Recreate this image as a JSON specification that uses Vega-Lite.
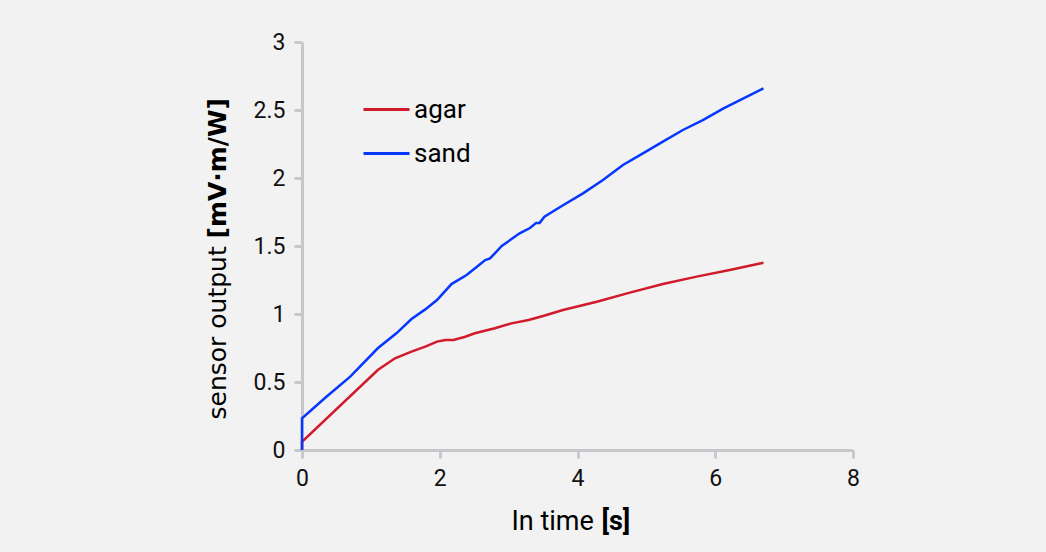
{
  "$schema": "https://vega.github.io/schema/vega-lite/v6.json",
  "width": 551,
  "height": 408,
  "autosize": {"type": "none"},
  "padding": {"left": 302, "top": 42, "right": 193, "bottom": 102},
  "background": "#f2f2f2",
  "config": {
    "view": {"stroke": null},
    "font": "Roboto",
    "axis": {
      "grid": false,
      "domainColor": "#c8c8cc",
      "domainWidth": 3,
      "tickColor": "#c8c8cc",
      "tickWidth": 3,
      "tickSize": 8,
      "labelFont": "Roboto",
      "labelFontSize": 23,
      "labelColor": "#111111",
      "labelPadding": 9,
      "labelFlush": false,
      "labelOverlap": false,
      "titleColor": "#000000"
    }
  },
  "data": {
    "values": [
      {"series": "agar", "k": 0, "t": 0, "v": 0},
      {"series": "agar", "k": 1, "t": 0, "v": 0.06},
      {"series": "agar", "k": 2, "t": 1.10, "v": 0.588},
      {"series": "agar", "k": 3, "t": 1.35, "v": 0.674},
      {"series": "agar", "k": 4, "t": 1.59, "v": 0.723},
      {"series": "agar", "k": 5, "t": 1.79, "v": 0.76},
      {"series": "agar", "k": 6, "t": 1.96, "v": 0.797},
      {"series": "agar", "k": 7, "t": 2.08, "v": 0.809},
      {"series": "agar", "k": 8, "t": 2.20, "v": 0.809},
      {"series": "agar", "k": 9, "t": 2.37, "v": 0.833},
      {"series": "agar", "k": 10, "t": 2.51, "v": 0.858},
      {"series": "agar", "k": 11, "t": 2.80, "v": 0.895},
      {"series": "agar", "k": 12, "t": 3.04, "v": 0.931},
      {"series": "agar", "k": 13, "t": 3.29, "v": 0.956},
      {"series": "agar", "k": 14, "t": 3.50, "v": 0.985},
      {"series": "agar", "k": 15, "t": 3.79, "v": 1.029},
      {"series": "agar", "k": 16, "t": 4.28, "v": 1.09},
      {"series": "agar", "k": 17, "t": 4.76, "v": 1.157},
      {"series": "agar", "k": 18, "t": 5.24, "v": 1.221},
      {"series": "agar", "k": 19, "t": 5.73, "v": 1.275},
      {"series": "agar", "k": 20, "t": 6.21, "v": 1.324},
      {"series": "agar", "k": 21, "t": 6.70, "v": 1.377},
      {"series": "sand", "k": 0, "t": 0, "v": 0},
      {"series": "sand", "k": 1, "t": 0, "v": 0.233},
      {"series": "sand", "k": 2, "t": 0.35, "v": 0.39},
      {"series": "sand", "k": 3, "t": 0.70, "v": 0.539},
      {"series": "sand", "k": 4, "t": 1.10, "v": 0.748},
      {"series": "sand", "k": 5, "t": 1.37, "v": 0.858},
      {"series": "sand", "k": 6, "t": 1.59, "v": 0.963},
      {"series": "sand", "k": 7, "t": 1.79, "v": 1.034},
      {"series": "sand", "k": 8, "t": 1.96, "v": 1.103},
      {"series": "sand", "k": 9, "t": 2.17, "v": 1.22},
      {"series": "sand", "k": 10, "t": 2.39, "v": 1.287},
      {"series": "sand", "k": 11, "t": 2.54, "v": 1.348},
      {"series": "sand", "k": 12, "t": 2.66, "v": 1.397},
      {"series": "sand", "k": 13, "t": 2.73, "v": 1.409},
      {"series": "sand", "k": 14, "t": 2.80, "v": 1.446},
      {"series": "sand", "k": 15, "t": 2.90, "v": 1.50},
      {"series": "sand", "k": 16, "t": 3.16, "v": 1.593},
      {"series": "sand", "k": 17, "t": 3.31, "v": 1.632},
      {"series": "sand", "k": 18, "t": 3.40, "v": 1.67},
      {"series": "sand", "k": 19, "t": 3.45, "v": 1.67},
      {"series": "sand", "k": 20, "t": 3.52, "v": 1.715},
      {"series": "sand", "k": 21, "t": 3.79, "v": 1.80},
      {"series": "sand", "k": 22, "t": 4.08, "v": 1.887},
      {"series": "sand", "k": 23, "t": 4.37, "v": 1.985},
      {"series": "sand", "k": 24, "t": 4.66, "v": 2.096},
      {"series": "sand", "k": 25, "t": 4.95, "v": 2.181},
      {"series": "sand", "k": 26, "t": 5.24, "v": 2.267},
      {"series": "sand", "k": 27, "t": 5.53, "v": 2.353},
      {"series": "sand", "k": 28, "t": 5.82, "v": 2.426},
      {"series": "sand", "k": 29, "t": 6.12, "v": 2.512},
      {"series": "sand", "k": 30, "t": 6.41, "v": 2.586},
      {"series": "sand", "k": 31, "t": 6.70, "v": 2.659}
    ]
  },
  "layer": [
    {
      "mark": {"type": "line", "strokeWidth": 2.5},
      "encoding": {
        "x": {
          "field": "t", "type": "quantitative",
          "scale": {"domain": [0, 8], "nice": false, "zero": false},
          "axis": {
            "values": [0, 2, 4, 6, 8],
            "title": "In time",
            "titleFont": "Roboto",
            "titleFontSize": 27,
            "titleFontWeight": "normal",
            "titleX": 209,
            "titleY": 79,
            "titleAlign": "left",
            "titleBaseline": "alphabetic"
          }
        },
        "y": {
          "field": "v", "type": "quantitative",
          "scale": {"domain": [0, 3], "nice": false, "zero": false},
          "axis": {
            "values": [0, 0.5, 1, 1.5, 2, 2.5, 3],
            "format": "~g",
            "title": "sensor output",
            "titleFont": "DejaVu Sans",
            "titleFontSize": 25,
            "titleFontWeight": "normal",
            "titleAngle": 270,
            "titleX": -77,
            "titleY": 377,
            "titleAlign": "left",
            "titleBaseline": "alphabetic"
          }
        },
        "color": {
          "field": "series", "type": "nominal",
          "scale": {"domain": ["agar", "sand"], "range": ["#d11a2a", "#0537ff"]},
          "legend": {
            "orient": "none",
            "legendX": 60,
            "legendY": 43,
            "title": null,
            "padding": 0,
            "symbolType": "stroke",
            "symbolSize": 2116,
            "symbolStrokeWidth": 3,
            "labelFont": "Roboto",
            "labelFontSize": 26,
            "labelColor": "#000000",
            "labelOffset": 3,
            "rowPadding": 6
          }
        },
        "order": {"field": "k", "type": "quantitative"}
      }
    },
    {
      "mark": {"type": "line", "opacity": 0},
      "encoding": {
        "x": {
          "field": "t", "type": "quantitative",
          "scale": {"domain": [0, 8], "nice": false, "zero": false},
          "axis": {
            "orient": "bottom",
            "labels": false, "ticks": false, "domain": false, "grid": false,
            "title": "[s]",
            "titleFont": "Roboto",
            "titleFontSize": 27,
            "titleFontWeight": "bold",
            "titleX": 299,
            "titleY": 79,
            "titleAlign": "left",
            "titleBaseline": "alphabetic"
          }
        },
        "y": {
          "field": "v", "type": "quantitative",
          "scale": {"domain": [0, 3], "nice": false, "zero": false},
          "axis": {
            "orient": "left",
            "labels": false, "ticks": false, "domain": false, "grid": false,
            "title": "[mV·m/W]",
            "titleFont": "DejaVu Sans",
            "titleFontSize": 25,
            "titleFontWeight": "bold",
            "titleAngle": 270,
            "titleX": -77,
            "titleY": 196,
            "titleAlign": "left",
            "titleBaseline": "alphabetic"
          }
        },
        "order": {"field": "k", "type": "quantitative"}
      }
    }
  ],
  "resolve": {"axis": {"x": "independent", "y": "independent"}}
}
